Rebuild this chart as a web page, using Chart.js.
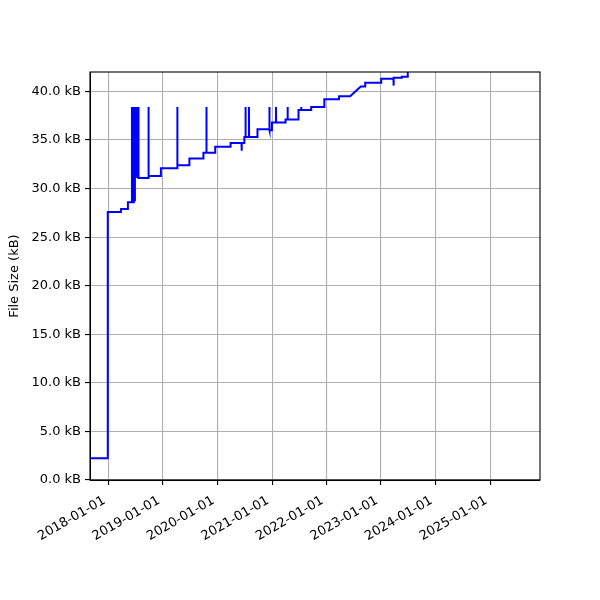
<!DOCTYPE html>
<html>
<head>
<meta charset="utf-8">
<script src="https://cdn.jsdelivr.net/npm/chart.js@4"></script>
<style>
  html, body { margin: 0; padding: 0; background: #fff; }
  #chart { display: block; }
</style>
</head>
<body>
<canvas id="chart" width="600" height="600"></canvas>
<script>
// commit dates and file size in kB
const dates = [
  "2017-08-30", "2017-12-26", "2017-12-27", "2018-03-25", "2018-03-26", "2018-05-10",
  "2018-05-11", "2018-06-06", "2018-06-07", "2018-06-08", "2018-06-14", "2018-06-15",
  "2018-06-20", "2018-06-21", "2018-06-27", "2018-06-28", "2018-07-05", "2018-07-06",
  "2018-07-12", "2018-07-13", "2018-07-20", "2018-07-21", "2018-09-25", "2018-09-26",
  "2018-09-27", "2018-12-17", "2018-12-18", "2019-04-06", "2019-04-07", "2019-04-08",
  "2019-06-26", "2019-06-27", "2019-09-28", "2019-09-29", "2019-10-18", "2019-10-19",
  "2019-10-20", "2019-12-16", "2019-12-17", "2020-03-28", "2020-03-29", "2020-06-10",
  "2020-06-11", "2020-06-12", "2020-06-28", "2020-06-29", "2020-07-06", "2020-07-07",
  "2020-07-08", "2020-07-29", "2020-07-30", "2020-07-31", "2020-09-24", "2020-09-25",
  "2020-12-13", "2020-12-14", "2020-12-15", "2020-12-30", "2020-12-31", "2021-01-26",
  "2021-01-27", "2021-01-28", "2021-03-31", "2021-04-01", "2021-04-14", "2021-04-15",
  "2021-04-16", "2021-06-26", "2021-06-27", "2021-07-14", "2021-07-15", "2021-07-16",
  "2021-09-19", "2021-09-20", "2021-12-16", "2021-12-17", "2022-03-25", "2022-03-26",
  "2022-06-08", "2022-08-18", "2022-09-16", "2022-09-17", "2023-01-01", "2023-01-02",
  "2023-03-25", "2023-03-26", "2023-03-27", "2023-05-19", "2023-05-20", "2023-06-28",
  "2023-06-29"
];
const sizes = [
  2.25, 2.25, 27.6, 27.6, 27.9, 27.9,
  28.6, 28.6, 38.4, 28.6, 38.4, 28.6,
  38.4, 28.8, 38.4, 31.1, 38.4, 31.1,
  38.4, 31.1, 38.4, 31.1, 31.1, 38.4,
  31.3, 31.3, 32.1, 32.1, 38.4, 32.4,
  32.4, 33.1, 33.1, 33.7, 33.7, 38.4,
  33.7, 33.7, 34.3, 34.3, 34.7, 34.7,
  33.9, 34.7, 34.7, 35.3, 35.3, 38.4,
  35.3, 35.3, 38.4, 35.3, 35.3, 36.1,
  36.1, 38.4, 36.0, 36.0, 36.8, 36.8,
  38.4, 36.8, 36.8, 37.1, 37.1, 38.4,
  37.1, 37.1, 38.1, 38.1, 38.4, 38.1,
  38.1, 38.4, 38.4, 39.2, 39.2, 39.5,
  39.5, 40.5, 40.5, 40.9, 40.9, 41.3,
  41.3, 40.6, 41.4, 41.4, 41.5, 41.5,
  43.0
];
const xTickYears = [2018, 2019, 2020, 2021, 2022, 2023, 2024, 2025];
const yTickValues = [0, 5, 10, 15, 20, 25, 30, 35, 40];

const xMin = Date.UTC(2017, 7, 30);
const xMax = Date.UTC(2025, 11, 1);

const points = dates.map((d, i) => ({ x: Date.parse(d), y: sizes[i] }));

function fmtDate(ms) {
  const d = new Date(ms);
  const mm = String(d.getUTCMonth() + 1).padStart(2, "0");
  const dd = String(d.getUTCDate()).padStart(2, "0");
  return d.getUTCFullYear() + "-" + mm + "-" + dd;
}

// black box round the plot area, like the axes spines
const frame = {
  id: "frame",
  afterDatasetsDraw(chart) {
    const { ctx, chartArea: a } = chart;
    ctx.save();
    ctx.strokeStyle = "#000";
    ctx.lineWidth = 1.1;
    ctx.strokeRect(a.left, a.top, a.right - a.left, a.bottom - a.top);
    ctx.restore();
  }
};

Chart.defaults.font.family = "'DejaVu Sans', sans-serif";
Chart.defaults.font.size = 13;
Chart.defaults.color = "#000";

new Chart(document.getElementById("chart"), {
  type: "line",
  data: {
    datasets: [{
      data: points,
      borderColor: "#0000ff",
      borderWidth: 2,
      pointRadius: 0,
      tension: 0,
      fill: false
    }]
  },
  options: {
    responsive: false,
    animation: false,
    layout: { padding: { top: 72, right: 60, left: 0, bottom: 0 } },
    plugins: { legend: { display: false }, tooltip: { enabled: false } },
    scales: {
      x: {
        type: "linear",
        min: xMin,
        max: xMax,
        afterBuildTicks: (scale) => {
          scale.ticks = xTickYears.map(y => ({ value: Date.UTC(y, 0, 1) }));
        },
        afterFit: (scale) => { scale.height = 120; },
        ticks: {
          autoSkip: false,
          minRotation: 30,
          maxRotation: 30,
          padding: 8,
          labelOffset: -4,
          callback: (v) => fmtDate(v)
        },
        grid: { color: "#b0b0b0", lineWidth: 1.1, tickColor: "#000", tickLength: 5 },
        border: { color: "#000" }
      },
      y: {
        type: "linear",
        min: 0,
        max: 42,
        afterBuildTicks: (scale) => {
          scale.ticks = yTickValues.map(v => ({ value: v }));
        },
        afterFit: (scale) => { scale.width = 90; },
        ticks: {
          padding: 4,
          callback: (v) => v.toFixed(1) + " kB"
        },
        title: {
          display: true,
          text: "File Size (kB)",
          padding: { top: 7, bottom: 4 }
        },
        grid: { color: "#b0b0b0", lineWidth: 1.1, tickColor: "#000", tickLength: 5 },
        border: { color: "#000" }
      }
    }
  },
  plugins: [frame]
});
</script>
</body>
</html>
